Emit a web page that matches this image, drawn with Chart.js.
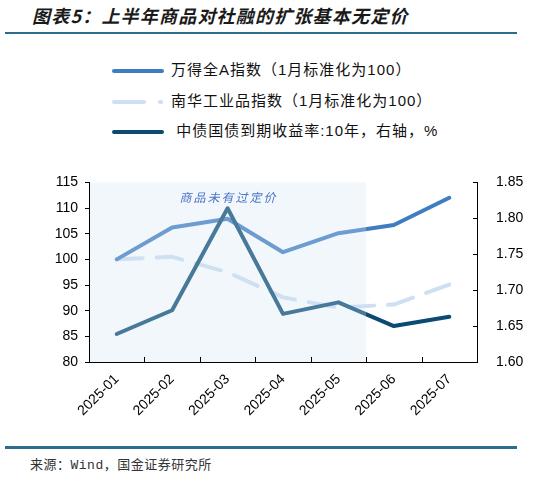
<!DOCTYPE html>
<html>
<head>
<meta charset="utf-8">
<script src="https://cdn.jsdelivr.net/npm/chart.js@4.4.1/dist/chart.umd.min.js"></script>
<style>
  body { margin: 0; width: 559px; height: 478px; background: #fff; position: relative; overflow: hidden; font-family: "Liberation Sans", "Noto Sans CJK SC", sans-serif; }
  #titulo { position: absolute; left: 32px; top: 6px; line-height: 18px; font-size: 18px; font-weight: bold; font-style: italic; letter-spacing: 1.2px; color: #1a1a1a; font-family: "Noto Sans CJK SC", sans-serif; white-space: nowrap; }
  .regla { position: absolute; left: 5px; width: 512px; background: #2f6a90; }
  .fila { position: absolute; left: 111px; height: 20px; line-height: 20px; font-size: 15px; color: #111; letter-spacing: 1px; white-space: nowrap; }
  .fila svg { vertical-align: middle; margin-right: 6px; }
  #fuente { position: absolute; left: 30px; top: 457px; font-size: 13px; line-height: 18px; color: #333; font-family: "Liberation Mono", "Noto Sans CJK SC", monospace; letter-spacing: 0.5px; }
  #marco { position: absolute; left: 0; top: 155px; width: 559px; height: 275px; }
</style>
</head>
<body>
<div id="titulo">图表5：上半年商品对社融的扩张基本无定价</div>
<div class="regla" style="top:32px;height:2px"></div>

<div class="fila" style="top:60px">
  <svg width="54" height="8"><line x1="3" y1="4" x2="51" y2="4" stroke="#3f7dc0" stroke-width="4" stroke-linecap="round"/></svg>万得全A指数（1月标准化为100）
</div>
<div class="fila" style="top:91px">
  <svg width="54" height="8"><line x1="3" y1="4" x2="33" y2="4" stroke="#cddff2" stroke-width="4" stroke-linecap="round"/><line x1="49" y1="4" x2="50" y2="4" stroke="#cddff2" stroke-width="4" stroke-linecap="round"/></svg>南华工业品指数（1月标准化为100）
</div>
<div class="fila" style="top:121px">
  <svg width="54" height="8"><line x1="3" y1="4" x2="51" y2="4" stroke="#0b4b71" stroke-width="4" stroke-linecap="round"/></svg> 中债国债到期收益率:10年，右轴，%
</div>

<div id="marco"><canvas id="grafico"></canvas></div>

<div class="regla" style="top:446px;height:3px"></div>
<div id="fuente">来源：Wind，国金证券研究所</div>

<script>
const meses = ['2025-01', '2025-02', '2025-03', '2025-04', '2025-05', '2025-06', '2025-07']
const windA = [100, 106.2, 107.9, 101.4, 105.1, 106.7, 112.0]
const nanhua = [100, 100.5, 97.5, 92.6, 90.6, 91.2, 95.1]
const bono10 = [1.639, 1.672, 1.814, 1.667, 1.683, 1.650, 1.663]
const ticksIzq = [80, 85, 90, 95, 100, 105, 110, 115]
const ticksDer = [1.60, 1.65, 1.70, 1.75, 1.80, 1.85]
const nota = '商品未有过定价'
const finSombra = 4   // la sombra llega hasta el final de 2025-05

const fuenteEje = { family: '"Liberation Sans", Arial, sans-serif', size: 14 }

// sombra clara sobre el tramo sin precio + texto
const sombra = {
  id: 'sombra',
  afterDatasetsDraw(chart) {
    const { ctx, chartArea: a, scales } = chart
    const x = scales.x
    const fin = (x.getPixelForValue(finSombra) + x.getPixelForValue(finSombra + 1)) / 2
    ctx.save()
    ctx.fillStyle = 'rgba(212,228,245,0.3)'
    ctx.fillRect(a.left + 1, a.top, fin - a.left - 1, a.bottom - a.top)
    ctx.font = 'italic 12px "Noto Sans CJK SC", sans-serif'
    ctx.letterSpacing = '2px'
    ctx.fillStyle = '#4a74c5'
    ctx.textAlign = 'center'
    ctx.textBaseline = 'middle'
    ctx.fillText(nota, x.getPixelForValue(2) + 1, scales.y.getPixelForValue(112.1))
    ctx.restore()
  }
}

// marcas hacia adentro en eje x y eje derecho
const marcas = {
  id: 'marcas',
  afterDraw(chart) {
    const { ctx, chartArea: a, scales } = chart
    const x = scales.x, y1 = scales.y1
    ctx.save()
    ctx.strokeStyle = '#000'
    ctx.lineWidth = 1
    ctx.beginPath()
    for (let i = 0; i < meses.length - 1; i++) {
      const px = Math.round((x.getPixelForValue(i) + x.getPixelForValue(i + 1)) / 2) + 0.5
      ctx.moveTo(px, a.bottom)
      ctx.lineTo(px, a.bottom - 5)
    }
    y1.ticks.forEach(t => {
      const py = Math.round(y1.getPixelForValue(t.value)) + 0.5
      ctx.moveTo(a.right, py)
      ctx.lineTo(a.right - 4, py)
    })
    ctx.stroke()
    ctx.restore()
  }
}

const config = {
  type: 'line',
  data: {
    labels: meses,
    datasets: [
      { label: '万得全A指数（1月标准化为100）', data: windA, yAxisID: 'y', borderColor: '#3f7dc0', order: 1 },
      { label: '南华工业品指数（1月标准化为100）', data: nanhua, yAxisID: 'y', borderColor: '#cddff2', borderDash: [26, 14], order: 2 },
      { label: '中债国债到期收益率:10年，右轴，%', data: bono10, yAxisID: 'y1', borderColor: '#0b4b71', order: 0 }
    ]
  },
  options: {
    responsive: true,
    maintainAspectRatio: false,
    animation: false,
    events: [],
    layout: { padding: { top: 11, left: 0, right: 0, bottom: 0 } },
    elements: {
      point: { radius: 0 },
      line: { borderWidth: 4, tension: 0, borderJoinStyle: 'round', borderCapStyle: 'round', fill: false }
    },
    plugins: { legend: { display: false }, tooltip: { enabled: false } },
    scales: {
      x: {
        offset: true,
        grid: { offset: true, drawOnChartArea: false, drawTicks: false },
        border: { color: '#000', width: 1 },
        ticks: { color: '#000', font: fuenteEje, minRotation: 45, maxRotation: 45, autoSkip: false, padding: 9 },
        afterFit: s => { s.height = 68 }
      },
      y: {
        position: 'left',
        min: ticksIzq[0],
        max: ticksIzq[ticksIzq.length - 1],
        afterBuildTicks: s => { s.ticks = ticksIzq.map(v => ({ value: v })) },
        grid: { drawOnChartArea: false, color: '#000', tickLength: 4 },
        border: { color: '#000', width: 1 },
        ticks: { color: '#000', font: fuenteEje, padding: 7 },
        afterFit: s => { s.width = 89 }
      },
      y1: {
        position: 'right',
        min: ticksDer[0],
        max: ticksDer[ticksDer.length - 1],
        afterBuildTicks: s => { s.ticks = ticksDer.map(v => ({ value: v })) },
        grid: { drawOnChartArea: false, drawTicks: false },
        border: { color: '#000', width: 1 },
        ticks: { color: '#000', font: fuenteEje, padding: 19, callback: v => Number(v).toFixed(2) },
        afterFit: s => { s.width = 82 }
      }
    }
  },
  plugins: [sombra, marcas]
}

new Chart(document.getElementById('grafico'), config)
</script>
</body>
</html>
